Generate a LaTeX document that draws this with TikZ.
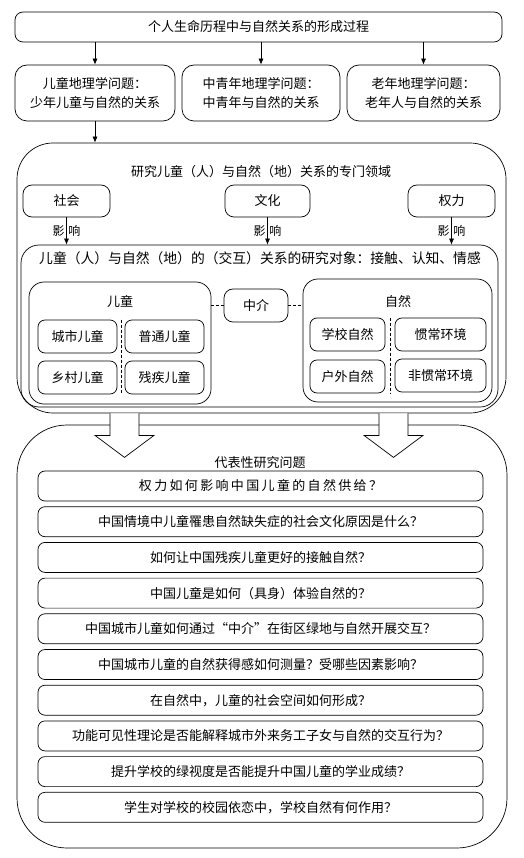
\documentclass[tikz,border=0pt]{standalone}
\usepackage{fontspec}
\setmainfont{Noto Sans CJK SC}
\usetikzlibrary{positioning,arrows.meta,calc}

\begin{document}
\begin{tikzpicture}[x=1pt,y=-1pt,>={Latex[length=6pt,width=5pt]},line width=0.7pt,
  on grid,node distance=35.7pt,
  font=\fontsize{13}{19}\selectfont,
  box/.style={draw,rounded corners=9pt,minimum height=32pt,inner sep=2pt},
  topic/.style={draw,rounded corners=12pt,minimum height=56pt,align=center},
  sub/.style={draw,rounded corners=7pt,minimum height=33pt,inner sep=2pt},
  qbox/.style={draw,rounded corners=7pt,minimum width=445pt,minimum height=30pt},
  big/.style={draw,rounded corners=#1},
  link/.style={dash pattern=on 3pt off 2pt},
  blockarrow/.style={draw,fill=white,line width=0.7pt}]
  \useasboundingbox (0,0) rectangle (523,858);

  % life course
  \node[box,rounded corners=8pt,minimum width=487pt,minimum height=30pt] (life) at (258.5,27) {个人生命历程中与自然关系的形成过程};
  \node[topic,minimum width=160pt] (kid) at (95,93) {儿童地理学问题：\\少年儿童与自然的关系};
  \node[topic,minimum width=158pt] (adult) at (261,93) {中青年地理学问题：\\中青年与自然的关系};
  \node[topic,minimum width=153pt] (old) at (423.5,93) {老年地理学问题：\\老年人与自然的关系};
  \draw[->] (kid.north |- life.south) -- (kid.north);
  \draw[->] (adult.north |- life.south) -- (adult.north);
  \draw[->] (old.north |- life.south) -- (old.north);

  % field of children's geography
  \node[big=36pt,minimum width=489pt,minimum height=270pt] (field) at (261.5,278) {};
  \draw[->] (kid.south) -- (kid.south |- field.north);
  \node (fieldtitle) at (261,172) {研究儿童（人）与自然（地）关系的专门领域};
  \node[box,minimum width=87pt] (soc) at (66.5,201) {社会};
  \node[box,minimum width=85pt] (cul) at (267.5,201) {文化};
  \node[box,minimum width=87pt] (pow) at (451.5,201) {权力};

  \node[big=18pt,minimum width=477pt,minimum height=162pt] (inter) at (259.5,326) {};
  \node (intertitle) at (260,258) {\fontsize{13.8}{16}\selectfont 儿童（人）与自然（地）的（交互）关系的研究对象：接触、认知、情感};
  \path[->,every node/.style={font=\fontsize{12}{14}\selectfont,inner sep=1.5pt}]
  (soc.south) edge node[left] {影} node[right] {响} (soc.south |- inter.north)
  (cul.south) edge node[left] {影} node[right] {响} (cul.south |- inter.north)
  (pow.south) edge node[left] {影} node[right] {响} (pow.south |- inter.north);

  % children
  \node[big=15pt,minimum width=182pt,minimum height=122pt] (child) at (120,343) {};
  \node (childtitle) at (120,302) {儿童};
  \node[sub,minimum width=79pt] (c1) at (77.5,336.5) {城市儿童};
  \node[sub,minimum width=79pt] (c2) at (164.5,336.5) {普通儿童};
  \node[sub,minimum width=79pt] (c3) at (77.5,377.5) {乡村儿童};
  \node[sub,minimum width=79pt] (c4) at (164.5,377.5) {残疾儿童};
  \draw[link] ($(c1.north east)!.5!(c2.north west)$) -- ($(c3.south east)!.5!(c4.south west)$);

  % mediation
  \node[box,minimum width=64pt,minimum height=33pt] (med) at (256,305.5) {中介};

  % nature
  \node[big=15pt,minimum width=189pt,minimum height=123pt] (nature) at (397.5,340.5) {};
  \node (naturetitle) at (398,302) {自然};
  \node[sub,minimum width=75pt] (n1) at (347.5,334.5) {学校自然};
  \node[sub,minimum width=91pt] (n2) at (440.5,334.5) {惯常环境};
  \node[sub,minimum width=75pt] (n3) at (347.5,376.5) {户外自然};
  \node[sub,minimum width=91pt] (n4) at (440.5,375.5) {非惯常环境};
  \draw[link] ($(n1.north east)!.5!(n2.north west)$) -- ($(n3.south east)!.5!(n4.south west)$);

  \draw[link] (med.west -| child.east) -- (med.west);
  \draw[link] (med.east) -- (med.east -| nature.west);

  % research questions
  \node[big=50pt,minimum width=490pt,minimum height=423pt] (quest) at (262,636.5) {};
  \node (questtitle) at (260,463) {代表性研究问题};
  \node[qbox] (q1) at (260.5,486) {\addfontfeature{LetterSpace=18}权力如何影响中国儿童的自然供给？};
  \node[qbox] (q2) [below=of q1] {中国情境中儿童罹患自然缺失症的社会文化原因是什么？};
  \node[qbox] (q3) [below=of q2] {如何让中国残疾儿童更好的接触自然？};
  \node[qbox] (q4) [below=of q3] {中国儿童是如何（具身）体验自然的？};
  \node[qbox] (q5) [below=of q4] {中国城市儿童如何通过“中介”在街区绿地与自然开展交互？};
  \node[qbox] (q6) [below=of q5] {中国城市儿童的自然获得感如何测量？受哪些因素影响？};
  \node[qbox] (q7) [below=of q6] {在自然中，儿童的社会空间如何形成？};
  \node[qbox] (q8) [below=of q7] {功能可见性理论是否能解释城市外来务工子女与自然的交互行为？};
  \node[qbox] (q9) [below=of q8] {提升学校的绿视度是否能提升中国儿童的学业成绩？};
  \node[qbox] (q10) [below=of q9] {学生对学校的校园依恋中，学校自然有何作用？};

  % block arrows
  \coordinate (la) at (124.5,413.4);
  \coordinate (ra) at (393.5,413.4);
  \path[blockarrow] (la) ++(-14.5,0) -- ++(0,22) -- ++(-15,0) -- ++(29.5,22) -- ++(29.5,-22) -- ++(-15,0) -- ++(0,-22);
  \path[blockarrow] (ra) ++(-14.5,0) -- ++(0,22) -- ++(-15,0) -- ++(29.5,22) -- ++(29.5,-22) -- ++(-15,0) -- ++(0,-22);
\end{tikzpicture}
\end{document}
